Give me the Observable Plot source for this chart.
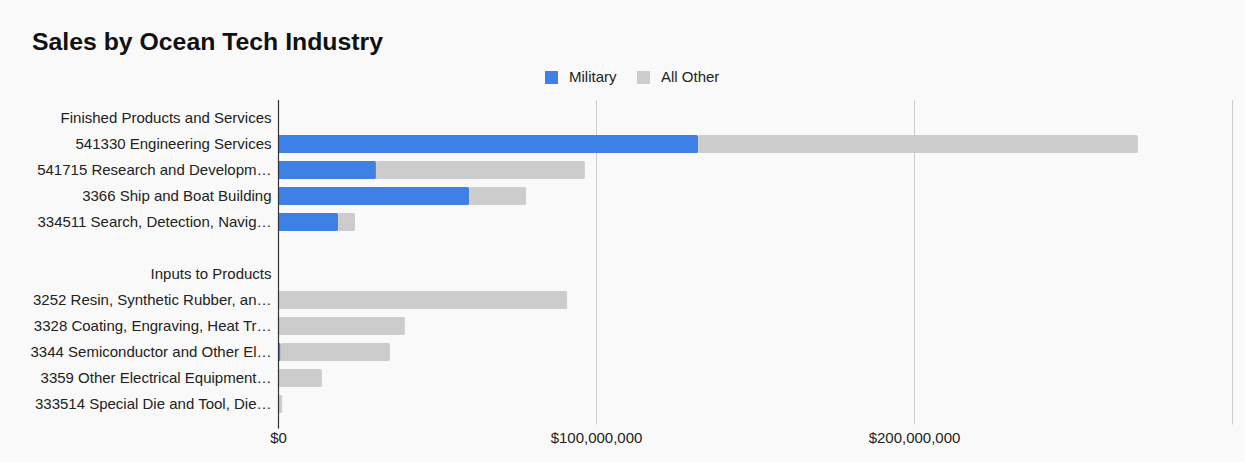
<!DOCTYPE html>
<html>
<head>
<meta charset="utf-8">
<script src="https://cdn.jsdelivr.net/npm/d3@7"></script>
<script src="https://cdn.jsdelivr.net/npm/@observablehq/plot@0.6"></script>
<style>
  html, body { margin: 0; padding: 0; background: #f9f9f9; }
  body { width: 1245px; height: 462px; overflow: hidden; font-family: "Liberation Sans", Arial, Helvetica, sans-serif; color: #222; }
  #header { position: relative; height: 92px; }
  #title { position: absolute; left: 32px; top: 27px; font-size: 24.8px; font-weight: bold; color: #111; line-height: 30px; white-space: nowrap; }
  #legend { position: absolute; top: 68px; left: 0; width: 1245px; height: 18px; }
  .item { position: absolute; top: 0; display: flex; align-items: center; font-size: 15px; line-height: 18px; color: #222; }
  .sw { width: 13px; height: 13px; margin-right: 11px; }
  svg { display: block; }
</style>
</head>
<body>
<div id="header">
  <div id="title"></div>
  <div id="legend"></div>
</div>
<div id="chart"></div>
<script>
const title = "Sales by Ocean Tech Industry";
const seriesNames = ["Military", "All Other"];
const seriesColors = ["#3d80e6", "#cccccc"];
const categories = [
  "Finished Products and Services",
  "541330 Engineering Services",
  "541715 Research and Developm…",
  "3366 Ship and Boat Building",
  "334511 Search, Detection, Navig…",
  " ",
  "Inputs to Products",
  "3252 Resin, Synthetic Rubber, an…",
  "3328 Coating, Engraving, Heat Tr…",
  "3344 Semiconductor and Other El…",
  "3359 Other Electrical Equipment…",
  "333514 Special Die and Tool, Die…"
];
const barCategories = [
  "541330 Engineering Services",
  "541715 Research and Developm…",
  "3366 Ship and Boat Building",
  "334511 Search, Detection, Navig…",
  "3252 Resin, Synthetic Rubber, an…",
  "3328 Coating, Engraving, Heat Tr…",
  "3344 Semiconductor and Other El…",
  "3359 Other Electrical Equipment…",
  "333514 Special Die and Tool, Die…"
];
const military = [132.1e6, 30.8e6, 60.1e6, 18.9e6, 0, 0, 0.8e6, 0, 0];
const allOther = [138.3e6, 65.7e6, 17.9e6, 5.3e6, 90.9e6, 39.9e6, 34.4e6, 13.8e6, 1.3e6];
const xTicks = [0, 100e6, 200e6];
const gridTicks = [100e6, 200e6, 300e6];

document.getElementById("title").textContent = title;

// legend
const legend = document.getElementById("legend");
const legendX = [545, 637];
seriesNames.forEach((name, i) => {
  const it = document.createElement("div");
  it.className = "item";
  it.style.left = legendX[i] + "px";
  const sw = document.createElement("div");
  sw.className = "sw";
  sw.style.background = seriesColors[i];
  it.appendChild(sw);
  it.appendChild(document.createTextNode(name));
  legend.appendChild(it);
});

const data = [];
barCategories.forEach((c, i) => data.push({label: c, series: seriesNames[0], value: military[i]}));
barCategories.forEach((c, i) => data.push({label: c, series: seriesNames[1], value: allOther[i]}));

const fmt = d => "$" + d3.format(",")(d);

const chart = Plot.plot({
  width: 1245,
  height: 370,
  marginTop: 8,
  marginBottom: 39.5,
  marginLeft: 278,
  marginRight: 13,
  style: {background: "transparent", fontFamily: "'Liberation Sans', Arial, Helvetica, sans-serif", fontSize: "15px", color: "#222"},
  x: {domain: [0, 300e6], axis: null, label: null},
  y: {domain: categories, padding: 0.31, axis: null, label: null},
  color: {domain: seriesNames, range: seriesColors},
  marks: [
    Plot.gridX(gridTicks, {stroke: "#cccccc", strokeOpacity: 1, strokeWidth: 1, insetBottom: -2}),
    Plot.barX(data, {x: "value", y: "label", fill: "series", rx: 1.5}),
    Plot.ruleX([0], {stroke: "#333", strokeWidth: 1.2, insetBottom: -6}),
    Plot.axisY({tickSize: 0, tickPadding: 7, fontSize: 15, fill: "#222", label: null}),
    Plot.axisX(xTicks, {tickSize: 0, tickPadding: 9, tickFormat: fmt, fontSize: 15, fill: "#222", label: null})
  ]
});
document.getElementById("chart").appendChild(chart);
</script>
</body>
</html>
